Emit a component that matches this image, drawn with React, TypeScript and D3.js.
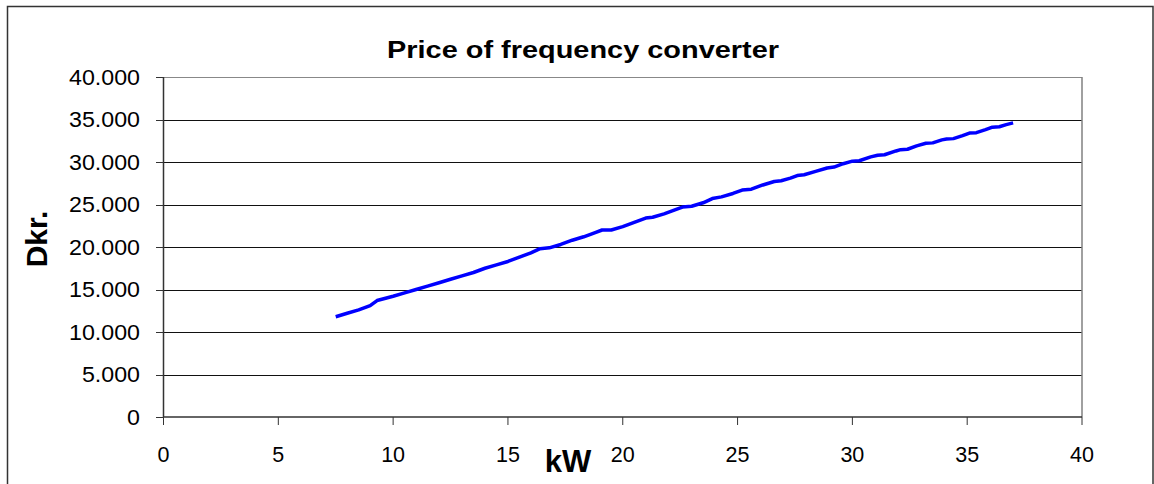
import React from "react";
import * as d3 from "d3";

const kW = [
  7.5, 8.0, 8.5, 9.0, 9.3, 10.0, 10.5, 11.0, 11.5, 12.0, 12.5, 13.0, 13.5, 14.0, 14.5, 15.0,
  15.5, 16.0, 16.4, 16.8, 17.3, 17.8, 18.3, 18.8, 19.1, 19.5, 20.0, 20.5, 21.0, 21.3, 21.8,
  22.3, 22.6, 23.0, 23.5, 23.9, 24.3, 24.8, 25.2, 25.6, 26.1, 26.6, 26.9, 27.3, 27.6, 27.9,
  28.4, 28.9, 29.2, 29.6, 30.0, 30.3, 30.8, 31.1, 31.4, 31.9, 32.1, 32.4, 32.8, 33.2, 33.5,
  33.9, 34.1, 34.4, 34.8, 35.1, 35.4, 35.8, 36.1, 36.4, 36.7, 37.0,
];
const price = [
  11800, 12200, 12600, 13100, 13700, 14200, 14600, 15000, 15400, 15800, 16200, 16600, 17000, 17500, 17900, 18300,
  18800, 19300, 19800, 19900, 20300, 20800, 21200, 21700, 22000, 22000, 22400, 22900, 23400, 23500, 23900,
  24400, 24700, 24800, 25200, 25700, 25900, 26300, 26700, 26800, 27300, 27700, 27800, 28100, 28400, 28500,
  28900, 29300, 29400, 29800, 30100, 30150, 30600, 30800, 30850, 31300, 31450, 31500, 31900, 32200, 32250,
  32600, 32700, 32750, 33100, 33400, 33450, 33800, 34100, 34150, 34400, 34600,
];
const xTicks = [0, 5, 10, 15, 20, 25, 30, 35, 40];
const yTicks = [0, 5000, 10000, 15000, 20000, 25000, 30000, 35000, 40000];
const title = "Price of frequency converter";
const xTitle = "kW";
const yTitle = "Dkr.";

const W = 1154;
const H = 484;
const FONT = "'Liberation Sans', Arial, sans-serif";

export default function App() {
  const plot = { left: 163.5, right: 1082, top: 77, bottom: 417 };
  const x = d3.scaleLinear().domain([0, 40]).range([plot.left, plot.right]);
  const y = d3.scaleLinear().domain([0, 40000]).range([plot.bottom, plot.top]);
  const fmt = (v: number) => d3.format(",")(v).replace(/,/g, ".");
  const pts = kW.map((k, i) => [k, price[i]] as [number, number]);
  const line = d3
    .line<[number, number]>()
    .x((d) => x(d[0]))
    .y((d) => y(d[1]));

  return (
    <div style={{ position: "fixed", left: 0, top: 0, width: W, height: H, background: "#fff" }}>
      <svg width={W} height={H} style={{ display: "block" }} fontFamily={FONT}>
        <rect x={0} y={0} width={W} height={H} fill="#fff" />
        {/* outer frame */}
        <rect x={7.5} y={6.5} width={1145.5} height={500} fill="none" stroke="#333" strokeWidth={1.5} />
        {/* gridlines */}
        {yTicks.slice(1).map((t) => (
          <line
            key={"g" + t}
            x1={plot.left}
            x2={plot.right}
            y1={Math.round(y(t)) + 0.5}
            y2={Math.round(y(t)) + 0.5}
            stroke={t === 40000 ? "#888" : "#111"}
            strokeWidth={1}
          />
        ))}
        {/* right border of plot */}
        <line x1={plot.right} x2={plot.right} y1={plot.top} y2={plot.bottom} stroke="#808080" strokeWidth={1.5} />
        {/* y axis */}
        <line x1={plot.left} x2={plot.left} y1={plot.top} y2={plot.bottom} stroke="#333" strokeWidth={1.5} />
        {yTicks.map((t) => (
          <g key={"y" + t}>
            <line x1={156} x2={plot.left} y1={Math.round(y(t)) + 0.5} y2={Math.round(y(t)) + 0.5} stroke="#333" strokeWidth={1} />
            <text
              transform={`translate(140,${y(t)}) scale(1.08,1)`}
              dy="0.36em"
              textAnchor="end"
              fontSize={21.5}
              fill="#000"
            >
              {fmt(t)}
            </text>
          </g>
        ))}
        {/* x axis */}
        <line x1={plot.left} x2={plot.right} y1={plot.bottom} y2={plot.bottom} stroke="#333" strokeWidth={1.5} />
        {xTicks.map((t) => (
          <g key={"x" + t}>
            <line x1={x(t)} x2={x(t)} y1={plot.bottom} y2={plot.bottom + 8} stroke="#333" strokeWidth={1} />
            <text x={x(t)} y={462} textAnchor="middle" fontSize={21.5} fill="#000">
              {t}
            </text>
          </g>
        ))}
        {/* data line */}
        <path d={line(pts) ?? ""} fill="none" stroke="#0000ff" strokeWidth={3.5} strokeLinejoin="round" />
        {/* titles */}
        <text
          x={387}
          y={58}
          fontSize={24}
          fontWeight="bold"
          fill="#000"
          textLength={392}
          lengthAdjust="spacingAndGlyphs"
        >
          {title}
        </text>
        <text x={568} y={472} textAnchor="middle" fontSize={31} fontWeight="bold" fill="#000">
          {xTitle}
        </text>
        <text
          transform="translate(46.5,239) rotate(-90)"
          textAnchor="middle"
          fontSize={30}
          fontWeight="bold"
          fill="#000"
        >
          {yTitle}
        </text>
      </svg>
    </div>
  );
}
